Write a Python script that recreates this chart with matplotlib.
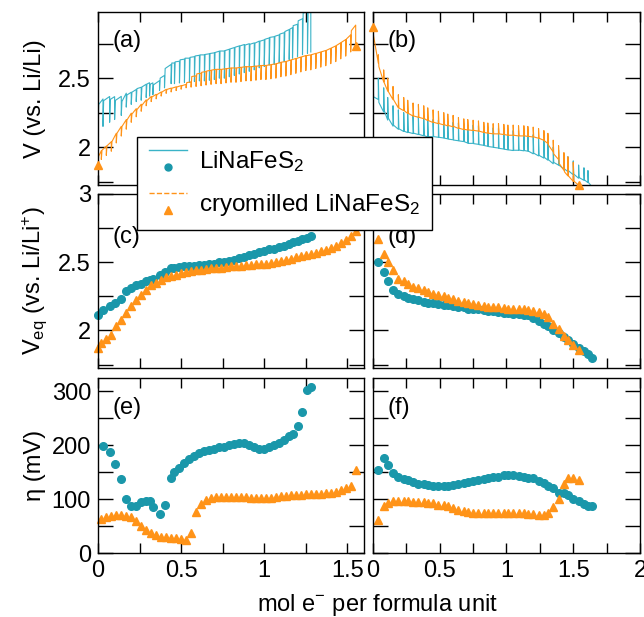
import matplotlib
matplotlib.use("Agg")
import matplotlib.pyplot as plt
from matplotlib.ticker import MultipleLocator, FuncFormatter
from matplotlib.legend_handler import HandlerBase
from matplotlib.lines import Line2D

plt.rcParams['font.family'] = ['Liberation Sans', 'DejaVu Sans']
plt.rcParams['mathtext.fontset'] = 'custom'
plt.rcParams['mathtext.rm'] = 'Liberation Sans'
plt.rcParams['mathtext.it'] = 'Liberation Sans:italic'
plt.rcParams['mathtext.default'] = 'regular'

# GITT charge, pristine LiNaFeS2 (first point is the OCV before the first pulse)
x_chg_pristine = [0.00, 0.03, 0.07, 0.10, 0.14, 0.17, 0.20, 0.23, 0.26, 0.29,
                  0.31, 0.33, 0.37, 0.40, 0.44, 0.46, 0.49, 0.52, 0.55, 0.58,
                  0.61, 0.64, 0.67, 0.70, 0.73, 0.76, 0.79, 0.82, 0.85, 0.88,
                  0.91, 0.94, 0.97, 1.00, 1.03, 1.06, 1.09, 1.12, 1.15, 1.17,
                  1.20, 1.23, 1.26, 1.28]
veq_chg_pristine = [2.11, 2.15, 2.18, 2.20, 2.23, 2.29, 2.31, 2.33, 2.34, 2.36,
                    2.37, 2.38, 2.41, 2.43, 2.46, 2.46, 2.465, 2.47, 2.47, 2.475,
                    2.48, 2.48, 2.485, 2.49, 2.50, 2.50, 2.51, 2.52, 2.53, 2.54,
                    2.55, 2.56, 2.575, 2.585, 2.595, 2.60, 2.61, 2.62, 2.635, 2.645,
                    2.655, 2.67, 2.68, 2.69]
# overpotential of each pulse (mV), one per pulse
eta_chg_pristine = [199, 187, 166, 138, 101, 88, 88, 94, 96, 97,
                    86, 72, 90, 140, 150, 158, 168, 175, 181, 186,
                    189, 192, 194, 196, 197, 200, 202, 204, 204, 200,
                    196, 194, 193, 197, 201, 204, 210, 218, 221, 236,
                    261, 302, 309]

# GITT charge, cryomilled LiNaFeS2
x_chg_cryo = [0.00, 0.02, 0.05, 0.08, 0.11, 0.14, 0.17, 0.20, 0.23, 0.26,
              0.29, 0.32, 0.35, 0.38, 0.41, 0.44, 0.47, 0.50, 0.53, 0.56,
              0.59, 0.62, 0.65, 0.68, 0.71, 0.74, 0.77, 0.80, 0.83, 0.86,
              0.89, 0.92, 0.95, 0.98, 1.01, 1.04, 1.07, 1.10, 1.13, 1.16,
              1.19, 1.22, 1.25, 1.28, 1.31, 1.34, 1.37, 1.40, 1.43, 1.46,
              1.49, 1.52, 1.55]
veq_chg_cryo = [1.87, 1.91, 1.94, 1.97, 2.03, 2.08, 2.13, 2.18, 2.22, 2.26,
                2.30, 2.33, 2.35, 2.37, 2.39, 2.40, 2.41, 2.42, 2.43, 2.435,
                2.44, 2.445, 2.45, 2.455, 2.46, 2.46, 2.465, 2.47, 2.47, 2.475,
                2.48, 2.48, 2.485, 2.49, 2.49, 2.495, 2.50, 2.51, 2.515, 2.525,
                2.535, 2.545, 2.555, 2.56, 2.57, 2.58, 2.59, 2.605, 2.62, 2.64,
                2.66, 2.69, 2.73]
eta_chg_cryo = [64, 67, 69, 70, 70, 69, 66, 59, 51, 43,
                37, 33, 30, 29, 28, 27, 26, 25, 38, 77,
                91, 98, 102, 104, 104, 104, 104, 104, 104, 104,
                103, 103, 102, 102, 103, 104, 105, 106, 107, 108,
                108, 109, 109, 110, 110, 111, 112, 114, 117, 120,
                124, 155]

# GITT discharge, pristine LiNaFeS2
x_dis_pristine = [0.00, 0.04, 0.08, 0.11, 0.15, 0.19, 0.23, 0.26, 0.30, 0.34,
                  0.38, 0.41, 0.45, 0.49, 0.53, 0.56, 0.60, 0.64, 0.68, 0.71,
                  0.75, 0.79, 0.83, 0.86, 0.90, 0.94, 0.98, 1.01, 1.05, 1.09,
                  1.13, 1.16, 1.20, 1.24, 1.28, 1.31, 1.35, 1.39, 1.43, 1.46,
                  1.50, 1.54, 1.58, 1.61, 1.64]
veq_dis_pristine = [2.52, 2.50, 2.43, 2.36, 2.30, 2.27, 2.25, 2.24, 2.23, 2.22,
                    2.21, 2.20, 2.20, 2.195, 2.19, 2.185, 2.18, 2.175, 2.17, 2.16,
                    2.16, 2.155, 2.15, 2.145, 2.14, 2.135, 2.13, 2.125, 2.12, 2.12,
                    2.115, 2.11, 2.09, 2.07, 2.05, 2.03, 2.00, 1.98, 1.95, 1.93,
                    1.90, 1.87, 1.85, 1.83, 1.80]
eta_dis_pristine = [155, 176, 164, 148, 141, 137, 135, 132, 129, 128,
                    127, 125, 124, 124, 125, 127, 129, 130, 131, 133,
                    135, 137, 139, 141, 142, 144, 145, 145, 143, 142,
                    140, 139, 134, 130, 125, 121, 111, 111, 108, 101,
                    96, 91, 88, 87]

# GITT discharge, cryomilled LiNaFeS2
x_dis_cryo = [0.00, 0.04, 0.08, 0.11, 0.15, 0.19, 0.23, 0.26, 0.30, 0.34,
              0.38, 0.41, 0.45, 0.49, 0.53, 0.56, 0.60, 0.64, 0.68, 0.71,
              0.75, 0.79, 0.83, 0.86, 0.90, 0.94, 0.98, 1.01, 1.05, 1.09,
              1.13, 1.16, 1.20, 1.24, 1.28, 1.31, 1.35, 1.39, 1.43, 1.46,
              1.50, 1.54]
veq_dis_cryo = [2.87, 2.67, 2.56, 2.50, 2.44, 2.38, 2.36, 2.34, 2.32, 2.31,
                2.30, 2.285, 2.27, 2.26, 2.25, 2.24, 2.23, 2.215, 2.205, 2.20,
                2.195, 2.19, 2.18, 2.175, 2.17, 2.17, 2.165, 2.16, 2.16, 2.155,
                2.155, 2.15, 2.145, 2.135, 2.12, 2.10, 2.05, 2.01, 1.96, 1.93,
                1.89, 1.86]
eta_dis_cryo = [62, 87, 93, 96, 96, 96, 96, 95, 94, 94,
                93, 92, 90, 89, 87, 83, 80, 78, 76, 75,
                74, 74, 74, 74, 74, 74, 74, 74, 74, 74,
                73, 72, 71, 71, 74, 85, 100, 128, 139, 139,
                136]

teal_line = '#3ab3c7'
teal_mark = '#1a97aa'
orange = '#ff9318'


def gitt_trace(x, veq, eta_mv, sign, relax_last=True, step=0.004):
    """Rebuild the pulse/relaxation voltage profile from Veq and eta."""
    xs, vs = [x[0]], [veq[0]]
    for i in range(1, len(x)):
        eta = sign * eta_mv[i - 1] / 1000.0
        xs += [x[i - 1] + step, x[i]]
        vs += [veq[i - 1] + eta, veq[i] + eta]
        if relax_last or i < len(x) - 1:
            xs.append(x[i])
            vs.append(veq[i])
    return xs, vs


class LineOverMarker(HandlerBase):
    # legend key with the line drawn above its marker
    def create_artists(self, legend, orig_handle, xdescent, ydescent,
                       width, height, fontsize, trans):
        line, mark = orig_handle
        y_line = height * 1.05 - ydescent
        y_mark = height * 0.05 - ydescent
        l = Line2D([-xdescent, width - xdescent], [y_line, y_line],
                   color=line.get_color(), linestyle=line.get_linestyle(),
                   linewidth=line.get_linewidth())
        m = Line2D([width / 2 - xdescent], [y_mark], linestyle='none',
                   marker=mark.get_marker(), color=mark.get_color(),
                   markersize=mark.get_markersize())
        l.set_transform(trans)
        m.set_transform(trans)
        return [l, m]


fig = plt.figure(figsize=(6.44, 6.17), dpi=100)
W, H = 644.0, 617.0
cols = [(98, 364), (373, 640)]
rows = [(12, 185), (194, 368), (378, 553)]


def make_axes(r, c):
    (x0, x1), (y0, y1) = cols[c], rows[r]
    return fig.add_axes([x0 / W, 1 - y1 / H, (x1 - x0) / W, (y1 - y0) / H])


fmt = FuncFormatter(lambda v, p: f'{v:g}')


def style(ax, xmax, ylim, ymajor, left, bottom):
    ax.set_xlim(0, xmax)
    ax.set_ylim(*ylim)
    ax.xaxis.set_major_locator(MultipleLocator(0.5))
    ax.xaxis.set_minor_locator(MultipleLocator(0.25))
    ax.yaxis.set_major_locator(MultipleLocator(ymajor))
    ax.yaxis.set_minor_locator(MultipleLocator(ymajor / 2))
    ax.xaxis.set_major_formatter(fmt)
    ax.yaxis.set_major_formatter(fmt)
    ax.tick_params(which='both', direction='in', top=True, right=True,
                   width=1.0, labelsize=17, pad=5,
                   labelleft=left, labelbottom=bottom)
    ax.tick_params(axis='x', which='both', length=7)
    ax.tick_params(axis='y', which='both', length=11)
    for sp in ax.spines.values():
        sp.set_linewidth(1.0)


ax_a, ax_b = make_axes(0, 0), make_axes(0, 1)
ax_c, ax_d = make_axes(1, 0), make_axes(1, 1)
ax_e, ax_f = make_axes(2, 0), make_axes(2, 1)

# (a) charge and (b) discharge voltage profiles
xs, vs = gitt_trace(x_chg_pristine, veq_chg_pristine, eta_chg_pristine, +1)
ax_a.plot(xs, vs, color=teal_line, lw=0.8)
xs, vs = gitt_trace(x_chg_cryo, veq_chg_cryo, eta_chg_cryo, +1)
ax_a.plot(xs, vs, color=orange, lw=0.8)
ax_a.plot([xs[0], xs[-1]], [vs[0], vs[-1]], ls='none', marker='^',
          ms=6, color=orange, clip_on=False, zorder=5)

xs, vs = gitt_trace(x_dis_pristine, veq_dis_pristine, eta_dis_pristine, -1,
                    relax_last=False)
ax_b.plot(xs, vs, color=teal_line, lw=0.8)
xs, vs = gitt_trace(x_dis_cryo, veq_dis_cryo, eta_dis_cryo, -1,
                    relax_last=False)
ax_b.plot(xs, vs, color=orange, lw=0.8)
ax_b.plot([xs[0], xs[-1]], [vs[0], vs[-1]], ls='none', marker='^',
          ms=6, color=orange, clip_on=False, zorder=5)

# (c), (d) equilibrium voltages; discharge OCV point is left out
ax_c.plot(x_chg_pristine, veq_chg_pristine, 'o', ms=5.5, color=teal_mark,
          clip_on=False)
ax_c.plot(x_chg_cryo, veq_chg_cryo, '^', ms=6, color=orange, clip_on=False)
ax_d.plot(x_dis_pristine[1:], veq_dis_pristine[1:], 'o', ms=5.5,
          color=teal_mark, clip_on=False)
ax_d.plot(x_dis_cryo[1:], veq_dis_cryo[1:], '^', ms=6, color=orange,
          clip_on=False)

# (e), (f) overpotentials
ax_e.plot(x_chg_pristine[1:], eta_chg_pristine, 'o', ms=5.5, color=teal_mark,
          clip_on=False)
ax_e.plot(x_chg_cryo[1:], eta_chg_cryo, '^', ms=6, color=orange,
          clip_on=False)
ax_f.plot(x_dis_pristine[1:], eta_dis_pristine, 'o', ms=5.5, color=teal_mark,
          clip_on=False)
ax_f.plot(x_dis_cryo[1:], eta_dis_cryo, '^', ms=6, color=orange,
          clip_on=False)

style(ax_a, 1.6, (1.725, 2.98), 0.5, True, False)
style(ax_b, 2.0, (1.725, 2.98), 0.5, False, False)
style(ax_c, 1.6, (1.725, 3.0), 0.5, True, False)
style(ax_d, 2.0, (1.725, 3.0), 0.5, False, False)
style(ax_e, 1.6, (0, 325), 100, True, True)
style(ax_f, 2.0, (0, 325), 100, False, True)

for ax, tag, ty in [(ax_a, '(a)', 0.83), (ax_b, '(b)', 0.83),
                    (ax_c, '(c)', 0.75), (ax_d, '(d)', 0.75),
                    (ax_e, '(e)', 0.83), (ax_f, '(f)', 0.83)]:
    ax.text(0.055, ty, tag, transform=ax.transAxes, fontsize=17,
            ha='left', va='center')

ylabels = ['V (vs. Li/Li)', r'V$_{eq}$ (vs. Li/Li$^{+}$)', 'η (mV)']
for label, (y0, y1) in zip(ylabels, rows):
    fig.text(41 / W, 1 - (y0 + y1) / 2 / H, label, fontsize=17, rotation=90,
             rotation_mode='anchor', ha='center', va='baseline')

fig.text(377 / W, 1 - 605 / H, r'mol e$^{-}$ per formula unit', fontsize=17,
         ha='center', va='center')

h_pristine = (Line2D([], [], color=teal_line, lw=1.0),
              Line2D([], [], marker='o', ms=5, color=teal_mark))
h_cryo = (Line2D([], [], color=orange, lw=1.0, ls=(0, (5.5, 3.5))),
          Line2D([], [], marker='^', ms=5.5, color=orange))
leg = fig.legend([h_pristine, h_cryo],
                 [r'LiNaFeS$_2$', r'cryomilled LiNaFeS$_2$'],
                 handler_map={tuple: LineOverMarker()},
                 loc='upper left', bbox_to_anchor=(137 / W, 1 - 137 / H),
                 borderaxespad=0, fontsize=17.5, frameon=True, fancybox=False,
                 edgecolor='black', framealpha=1, handlelength=1.55,
                 handletextpad=0.5, borderpad=0.5, labelspacing=0.75)
leg.get_frame().set_linewidth(1.0)

fig.savefig('out.png', dpi=100)
